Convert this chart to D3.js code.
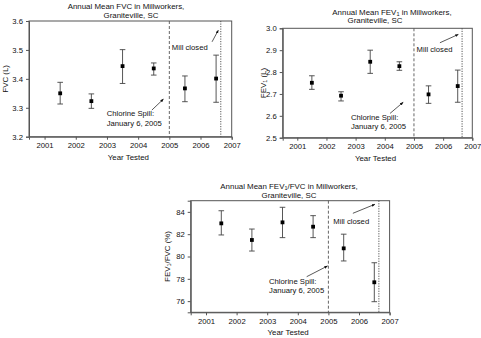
<!DOCTYPE html>
<html>
<head>
<meta charset="utf-8">
<script src="https://cdn.jsdelivr.net/npm/d3@7"></script>
<style>
  body { margin: 0; background: #fff; }
  svg text { font-family: "Liberation Sans", Arial, sans-serif; fill: #111; }
</style>
</head>
<body>
<div id="chart"></div>
<script>
// Data
const years = [2001.5, 2002.5, 2003.5, 2004.5, 2005.5, 2006.5];
const xTicks = [2001, 2002, 2003, 2004, 2005, 2006, 2007];

const fvcMean = [3.350, 3.323, 3.444, 3.436, 3.367, 3.401];
const fvcLow  = [3.313, 3.298, 3.384, 3.413, 3.321, 3.319];
const fvcHigh = [3.388, 3.348, 3.501, 3.455, 3.410, 3.482];

const fev1Mean = [2.751, 2.692, 2.847, 2.827, 2.698, 2.736];
const fev1Low  = [2.721, 2.668, 2.794, 2.808, 2.657, 2.662];
const fev1High = [2.783, 2.710, 2.900, 2.847, 2.737, 2.809];

const ratioMean = [82.97, 81.48, 83.06, 82.67, 80.73, 77.69];
const ratioLow  = [81.93, 80.49, 81.69, 81.69, 79.60, 75.95];
const ratioHigh = [84.10, 82.46, 84.41, 83.66, 82.00, 79.44];

const fvcTicks = [3.2, 3.3, 3.4, 3.5, 3.6];
const fev1Ticks = [2.5, 2.6, 2.7, 2.8, 2.9, 3.0];
const ratioTicks = [76, 78, 80, 82, 84];

const spillYear = 2005;
const closeYear = 2006.65;

const width = 481, height = 338;

const svg = d3.select("#chart")
  .append("svg")
    .attr("width", width)
    .attr("height", height);

// Arrow head marker
svg.append("defs").append("marker")
    .attr("id", "arrow")
    .attr("viewBox", "0 0 10 10")
    .attr("refX", 9)
    .attr("refY", 5)
    .attr("markerWidth", 5)
    .attr("markerHeight", 5)
    .attr("orient", "auto")
  .append("path")
    .attr("d", "M0,1 L10,5 L0,9 Z")
    .attr("fill", "#111");

// Panel layout (pixel boxes) + annotation anchors in data units
const panels = [
  {
    box: {left: 29, top: 21, right: 231.7, bottom: 136.7},
    yDomain: [3.2, 3.6], yTicks: fvcTicks, yFormat: d3.format(".1f"),
    mean: fvcMean, low: fvcLow, high: fvcHigh,
    title1: [["Annual Mean FVC in Millworkers,", false]], title1X: 126,
    title2X: 131, titleDy: [-15, -6],
    ylabel: [["FVC (L)", false]], ylabelX: 5,
    mill: {text: [2005.08, 3.51], from: [2006.37, 3.528], to: [2006.57, 3.568]},
    spill: {text: [2002.99, 3.281, 3.246], from: [2004.44, 3.292], to: [2004.81, 3.33]}
  },
  {
    box: {left: 282.7, top: 28.3, right: 472.3, bottom: 137.7},
    yDomain: [2.5, 3.0], yTicks: fev1Ticks, yFormat: d3.format(".1f"),
    mean: fev1Mean, low: fev1Low, high: fev1High,
    title1: [["Annual Mean FEV", false], ["1", true], [" in Millworkers,", false]], title1X: 392,
    title2X: 375, titleDy: [-16, -7.6],
    ylabel: [["FEV", false], ["1", true], [" (L)", false]], ylabelX: 263,
    mill: {text: [2005.09, 2.905], from: [2005.89, 2.934], to: [2006.52, 2.972]},
    spill: {text: [2002.84, 2.593, 2.55], from: [2004.18, 2.611], to: [2004.63, 2.662]}
  },
  {
    box: {left: 190.7, top: 200.7, right: 389.6, bottom: 312.3},
    yDomain: [75, 85], yTicks: ratioTicks, yFormat: d3.format("d"),
    mean: ratioMean, low: ratioLow, high: ratioHigh,
    title1: [["Annual Mean FEV", false], ["1", true], ["/FVC in Millworkers,", false]], title1X: 289,
    title2X: 289, titleDy: [-14.7, -5.7],
    ylabel: [["FEV", false], ["1", true], ["/FVC (%)", false]], ylabelX: 167,
    mill: {text: [2005.16, 83.12], from: [2005.8, 83.87], to: [2006.52, 84.68]},
    spill: {text: [2003.06, 77.74, 76.91], from: [2004.29, 78.19], to: [2004.97, 79.15]}
  }
];

function addParts(sel, parts, size) {
  parts.forEach(function(p, i) {
    const t = sel.append("tspan").text(p[0]);
    if (p[1]) {
      t.attr("dy", 2).style("font-size", (size * 0.7) + "px");
    } else if (i > 0 && parts[i - 1][1]) {
      t.attr("dy", -2);
    }
  });
}

panels.forEach(function(p) {
  const b = p.box;
  const g = svg.append("g");

  const x = d3.scaleLinear().domain([2000.5, 2007]).range([b.left, b.right]);
  const y = d3.scaleLinear().domain(p.yDomain).range([b.bottom, b.top]);

  // frame
  g.append("rect")
    .attr("x", b.left).attr("y", b.top)
    .attr("width", b.right - b.left).attr("height", b.bottom - b.top)
    .attr("fill", "none").attr("stroke", "#555").attr("stroke-width", 1);

  // axes
  const xAxis = g.append("g")
    .attr("transform", `translate(0, ${b.bottom})`)
    .call(d3.axisBottom(x).tickValues(xTicks).tickFormat(d3.format("d")).tickSize(3).tickPadding(3));
  const yAxis = g.append("g")
    .attr("transform", `translate(${b.left}, 0)`)
    .call(d3.axisLeft(y).tickValues(p.yTicks).tickFormat(p.yFormat).tickSize(3).tickPadding(3));
  [xAxis, yAxis].forEach(function(a) {
    a.select(".domain").attr("stroke", "#555");
    a.selectAll(".tick line").attr("stroke", "#555");
    a.selectAll(".tick text").style("font-size", "7.7px").attr("fill", "#111");
  });

  // reference lines
  g.append("line")
    .attr("x1", x(spillYear)).attr("x2", x(spillYear))
    .attr("y1", b.top).attr("y2", b.bottom)
    .attr("stroke", "#555").attr("stroke-width", 0.9)
    .attr("stroke-dasharray", "3,2");
  g.append("line")
    .attr("x1", x(closeYear)).attr("x2", x(closeYear))
    .attr("y1", b.top).attr("y2", b.bottom)
    .attr("stroke", "#444").attr("stroke-width", 0.9)
    .attr("stroke-dasharray", "1.2,1.3");

  // error bars
  const bars = g.append("g").selectAll("g")
    .data(years.map((yr, i) => ({yr: yr, m: p.mean[i], lo: p.low[i], hi: p.high[i]})))
    .join("g");
  bars.append("line")
    .attr("x1", d => x(d.yr)).attr("x2", d => x(d.yr))
    .attr("y1", d => y(d.lo)).attr("y2", d => y(d.hi))
    .attr("stroke", "#444").attr("stroke-width", 0.9);
  bars.append("line")
    .attr("x1", d => x(d.yr) - 2.8).attr("x2", d => x(d.yr) + 2.8)
    .attr("y1", d => y(d.hi)).attr("y2", d => y(d.hi))
    .attr("stroke", "#444").attr("stroke-width", 0.9);
  bars.append("line")
    .attr("x1", d => x(d.yr) - 2.8).attr("x2", d => x(d.yr) + 2.8)
    .attr("y1", d => y(d.lo)).attr("y2", d => y(d.lo))
    .attr("stroke", "#444").attr("stroke-width", 0.9);
  bars.append("rect")
    .attr("x", d => x(d.yr) - 1.9).attr("y", d => y(d.m) - 1.9)
    .attr("width", 3.8).attr("height", 3.8)
    .attr("fill", "#000");

  // titles
  const t1 = g.append("text")
    .attr("x", p.title1X).attr("y", b.top + p.titleDy[0])
    .attr("text-anchor", "middle").attr("dominant-baseline", "central")
    .style("font-size", "7.9px");
  addParts(t1, p.title1, 7.9);
  g.append("text")
    .attr("x", p.title2X).attr("y", b.top + p.titleDy[1])
    .attr("text-anchor", "middle").attr("dominant-baseline", "central")
    .style("font-size", "7.9px")
    .text("Graniteville, SC");

  // x label
  g.append("text")
    .attr("x", (b.left + b.right) / 2 - 2).attr("y", b.bottom + 20.5)
    .attr("text-anchor", "middle").attr("dominant-baseline", "central")
    .style("font-size", "7.9px")
    .text("Year Tested");

  // y label
  const yl = g.append("text")
    .attr("transform", `translate(${p.ylabelX}, ${(b.top + b.bottom) / 2}) rotate(-90)`)
    .attr("text-anchor", "middle").attr("dominant-baseline", "central")
    .style("font-size", "7.9px");
  addParts(yl, p.ylabel, 7.9);

  // annotations
  g.append("text")
    .attr("x", x(p.mill.text[0])).attr("y", y(p.mill.text[1]))
    .attr("dominant-baseline", "central")
    .style("font-size", "7.7px")
    .text("Mill closed");
  g.append("line")
    .attr("x1", x(p.mill.from[0])).attr("y1", y(p.mill.from[1]))
    .attr("x2", x(p.mill.to[0])).attr("y2", y(p.mill.to[1]))
    .attr("stroke", "#111").attr("stroke-width", 0.7)
    .attr("marker-end", "url(#arrow)");

  g.append("text")
    .attr("x", x(p.spill.text[0])).attr("y", y(p.spill.text[1]))
    .attr("dominant-baseline", "central")
    .style("font-size", "7.7px")
    .text("Chlorine Spill:");
  g.append("text")
    .attr("x", x(p.spill.text[0])).attr("y", y(p.spill.text[2]))
    .attr("dominant-baseline", "central")
    .style("font-size", "7.7px")
    .text("January 6, 2005");
  g.append("line")
    .attr("x1", x(p.spill.from[0])).attr("y1", y(p.spill.from[1]))
    .attr("x2", x(p.spill.to[0])).attr("y2", y(p.spill.to[1]))
    .attr("stroke", "#111").attr("stroke-width", 0.7)
    .attr("marker-end", "url(#arrow)");
});
</script>
</body>
</html>
